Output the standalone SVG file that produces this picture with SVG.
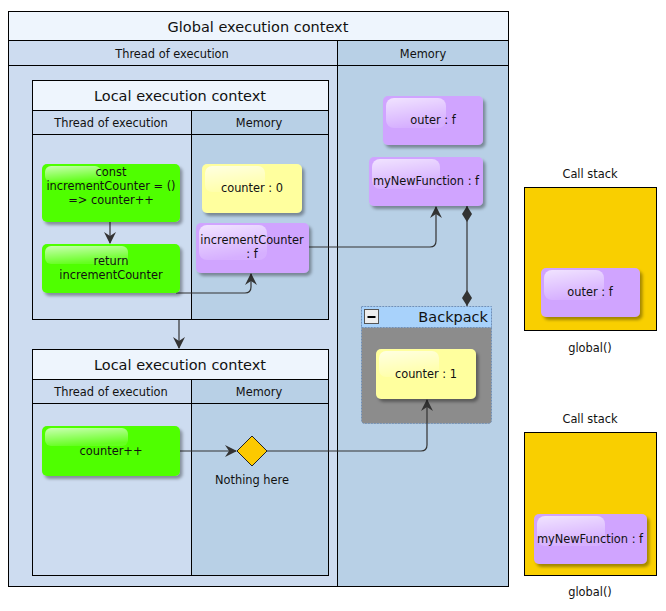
<svg xmlns="http://www.w3.org/2000/svg" width="666" height="611" viewBox="0 0 666 611">
<defs>
<style>
text{font-family:"DejaVu Sans","Liberation Sans",sans-serif;fill:#111;text-anchor:middle}
.t{font-size:11.4px}
.h{font-size:14.5px}
.frame{stroke:#000;stroke-width:1}
.green{fill:#50ff00}
.purple{fill:#d0a4ff}
.yellow{fill:#ffff9e}
.gl{fill:url(#gloss)}
.conn{fill:none;stroke:#333;stroke-width:1.2}
</style>
<linearGradient id="gloss" x1="0" y1="0" x2="0.3" y2="1">
<stop offset="0" stop-color="#fff" stop-opacity="0.7"/>
<stop offset="1" stop-color="#fff" stop-opacity="0.12"/>
</linearGradient>
<filter id="sh" x="-10%" y="-10%" width="130%" height="140%">
<feDropShadow dx="2.5" dy="3" stdDeviation="1.6" flood-color="#000" flood-opacity="0.35"/>
</filter>
<marker id="arr" viewBox="0 0 12 12" refX="11" refY="6" markerWidth="12" markerHeight="12" markerUnits="userSpaceOnUse" orient="auto">
<path d="M0,0 L12,6 L0,12 L4,6 Z" fill="#333"/>
</marker>
<marker id="dia" viewBox="0 0 16 10" refX="0" refY="5" markerWidth="16" markerHeight="10" markerUnits="userSpaceOnUse" orient="auto">
<path d="M0,5 L8,0 L16,5 L8,10 Z" fill="#333"/>
</marker>
<marker id="diaE" viewBox="0 0 16 10" refX="16" refY="5" markerWidth="16" markerHeight="10" markerUnits="userSpaceOnUse" orient="auto">
<path d="M0,5 L8,0 L16,5 L8,10 Z" fill="#333"/>
</marker>
</defs>
<rect width="666" height="611" fill="#fff"/>

<g id="global-context">
<rect x="8.5" y="11.5" width="500" height="575" fill="#cddcf0" class="frame"/>
<rect x="8.5" y="11.5" width="500" height="29" fill="#eef5fd" class="frame"/>
<rect x="337.5" y="40.5" width="171" height="546" fill="#b8d0e6" class="frame"/>
<line x1="8.5" y1="65.5" x2="508.5" y2="65.5" class="frame"/>
<text class="h" x="258" y="32">Global execution context</text>
<text class="t" x="172" y="58">Thread of execution</text>
<text class="t" x="423" y="58">Memory</text>
</g>

<g id="local-context-1">
<rect x="32.5" y="80.5" width="296" height="239" fill="#cddcf0" class="frame"/>
<rect x="191.5" y="110.5" width="137" height="209" fill="#b8d0e6" class="frame"/>
<rect x="32.5" y="80.5" width="296" height="30" fill="#eef5fd" class="frame"/>
<line x1="32.5" y1="134.5" x2="328.5" y2="134.5" class="frame"/>
<text class="h" x="180" y="101">Local execution context</text>
<text class="t" x="111" y="127">Thread of execution</text>
<text class="t" x="259" y="127">Memory</text>
</g>

<g id="local-context-2">
<rect x="32.5" y="349.5" width="296" height="226" fill="#cddcf0" class="frame"/>
<rect x="191.5" y="379.5" width="137" height="196" fill="#b8d0e6" class="frame"/>
<rect x="32.5" y="349.5" width="296" height="30" fill="#eef5fd" class="frame"/>
<line x1="32.5" y1="403.5" x2="328.5" y2="403.5" class="frame"/>
<text class="h" x="180" y="370">Local execution context</text>
<text class="t" x="111" y="396">Thread of execution</text>
<text class="t" x="259" y="396">Memory</text>
</g>

<g id="backpack">
<rect x="361.5" y="306.5" width="130" height="117" rx="3" fill="#8c8c8c" stroke="#6f8fb8" stroke-dasharray="1.5 1.5"/>
<rect x="361.5" y="306.5" width="130" height="21" fill="#a8d2fb" stroke="#6f8fb8" stroke-dasharray="1.5 1.5"/>
<rect x="364.5" y="309.5" width="14" height="14" fill="#eee" stroke="#555"/>
<line x1="367.5" y1="317" x2="375.5" y2="317" stroke="#000" stroke-width="2"/>
<text class="h" x="488" y="322" style="text-anchor:end">Backpack</text>
</g>

<g id="callstack-1">
<text class="t" x="590" y="178">Call stack</text>
<rect x="524.5" y="187.5" width="132" height="143" fill="#f9cf00" class="frame"/>
<text class="t" x="590" y="352">global()</text>
</g>
<g id="callstack-2">
<text class="t" x="590" y="423">Call stack</text>
<rect x="524.5" y="432.5" width="132" height="143" fill="#f9cf00" class="frame"/>
<text class="t" x="590" y="596">global()</text>
</g>

<g id="connectors">
<line x1="110" y1="222" x2="110" y2="243" class="conn" marker-end="url(#arr)"/>
<path d="M176,293 H245 Q251,293 251,287 V274" class="conn" marker-end="url(#arr)"/>
<path d="M309,247 H430 Q436,247 436,241 V207" class="conn" marker-end="url(#arr)"/>
<line x1="467" y1="206" x2="467" y2="306" class="conn" marker-start="url(#dia)" marker-end="url(#diaE)"/>
<line x1="179" y1="320" x2="179" y2="348" class="conn" marker-end="url(#arr)"/>
<line x1="180" y1="451" x2="236" y2="451" class="conn" marker-end="url(#arr)"/>
<path d="M267,451 H421 Q427,451 427,445 V400" class="conn" marker-end="url(#arr)"/>
</g>

<g id="node-const">
<rect x="42" y="164" width="138" height="58" rx="5" class="green" filter="url(#sh)"/>
<rect x="45" y="166" width="56" height="16" rx="6" class="gl"/>
<text class="t" x="111" y="176">const</text>
<text class="t" x="111" y="190">incrementCounter = ()</text>
<text class="t" x="111" y="204">=&gt; counter++</text>
</g>

<g id="node-return">
<rect x="42" y="244" width="138" height="49" rx="5" class="green" filter="url(#sh)"/>
<rect x="45" y="246" width="83" height="18" rx="6" class="gl"/>
<text class="t" x="111" y="265">return</text>
<text class="t" x="111" y="279">incrementCounter</text>
</g>

<g id="node-counter0">
<rect x="202" y="164" width="100" height="49" rx="5" class="yellow" filter="url(#sh)"/>
<rect x="205" y="166" width="60" height="26" rx="7" class="gl"/>
<text class="t" x="252" y="192">counter : 0</text>
</g>

<g id="node-incrementCounter">
<rect x="196" y="223" width="113" height="50" rx="5" class="purple" filter="url(#sh)"/>
<rect x="199" y="225" width="68" height="35" rx="8" class="gl"/>
<text class="t" x="252" y="244">incrementCounter</text>
<text class="t" x="252" y="258">: f</text>
</g>

<g id="node-outer">
<rect x="383" y="96" width="100" height="49" rx="5" class="purple" filter="url(#sh)"/>
<rect x="386" y="98" width="60" height="30" rx="8" class="gl"/>
<text class="t" x="433" y="124">outer : f</text>
</g>

<g id="node-myNewFunction">
<rect x="369" y="157" width="114" height="49" rx="5" class="purple" filter="url(#sh)"/>
<rect x="372" y="159" width="68" height="30" rx="8" class="gl"/>
<text class="t" x="426" y="185">myNewFunction : f</text>
</g>

<g id="node-counter1">
<rect x="376" y="349" width="100" height="50" rx="5" class="yellow" filter="url(#sh)"/>
<rect x="379" y="351" width="60" height="26" rx="7" class="gl"/>
<text class="t" x="426" y="378">counter : 1</text>
</g>

<g id="node-counterpp">
<rect x="42" y="426" width="138" height="50" rx="5" class="green" filter="url(#sh)"/>
<rect x="45" y="428" width="83" height="18" rx="6" class="gl"/>
<text class="t" x="111" y="455">counter++</text>
</g>

<g id="node-nothing">
<path d="M252,436 L267,451 L252,466 L237,451 Z" fill="#fcc900" stroke="#222"/>
<text class="t" x="252" y="484">Nothing here</text>
</g>

<g id="node-stack-outer">
<rect x="541" y="268" width="99" height="49" rx="5" class="purple" filter="url(#sh)"/>
<rect x="544" y="270" width="60" height="30" rx="8" class="gl"/>
<text class="t" x="590" y="296">outer : f</text>
</g>

<g id="node-stack-myNewFunction">
<rect x="534" y="514" width="113" height="50" rx="5" class="purple" filter="url(#sh)"/>
<rect x="537" y="516" width="68" height="30" rx="8" class="gl"/>
<text class="t" x="590" y="543">myNewFunction : f</text>
</g>
</svg>
